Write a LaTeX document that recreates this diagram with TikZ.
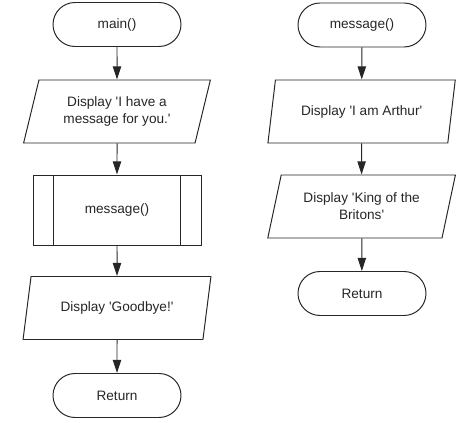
\documentclass[tikz,border=0pt]{standalone}
\usepackage{fontspec}
\setmainfont{Liberation Sans}
\usepackage{tikz}
\usetikzlibrary{shapes.geometric,arrows.meta}
\newcommand{\q}{\textquotesingle}
\tikzset{term/.style={rectangle,draw,rounded corners=0.55cm,minimum width=3.2cm,minimum height=1.1cm,inner sep=0.1cm},
         io/.style={trapezium,draw,trapezium left angle=72,trapezium right angle=108,trapezium stretches=true,minimum width=4.7cm,minimum height=1.575cm,inner sep=0.05cm,align=center},
         sub/.style={rectangle,draw,minimum width=4.2cm,minimum height=1.75cm}}

\begin{document}
\begin{tikzpicture}[>={Triangle[length=0.33cm,width=0.21cm]},line width=0.7pt,draw=black!85,text=black!85,font=\fontsize{9.7}{12}\selectfont]
    \useasboundingbox (0,0) rectangle (11.8,-10.575);
    % main()
    \node[term] (main) at (2.925,-0.6125) {main()};
    \node[io] (have) at (2.925,-2.7875) {Display \q I have a\\message for you.\q};
    \node[sub] (call) at (2.925,-5.25) {message()};
    \node[io] (bye) at (2.925,-7.7) {Display \q Goodbye!\q};
    \node[term] (ret) at (2.925,-9.8875) {Return};
    \draw ([xshift=0.525cm]call.north west) -- ([xshift=0.525cm]call.south west);
    \draw ([xshift=-0.525cm]call.north east) -- ([xshift=-0.525cm]call.south east);

    % message()
    \node[term] (msg) at (9.05,-0.625) {message()};
    \node[io] (arthur) at (9.04,-2.7875) {Display \q I am Arthur\q};
    \node[io] (king) at (9.04,-5.1625) {Display \q King of the\\Britons\q};
    \node[term] (ret2) at (9.05,-7.3375) {Return};

    \draw [->] (main) to [] (have);
    \draw [->] (have) to [] (call);
    \draw [->] (call) to [] (bye);
    \draw [->] (bye) to [] (ret);
    \draw [->] (msg) to [] (arthur);
    \draw [->] (arthur) to [] (king);
    \draw [->] (king) to [] (ret2);
\end{tikzpicture}
\end{document}
